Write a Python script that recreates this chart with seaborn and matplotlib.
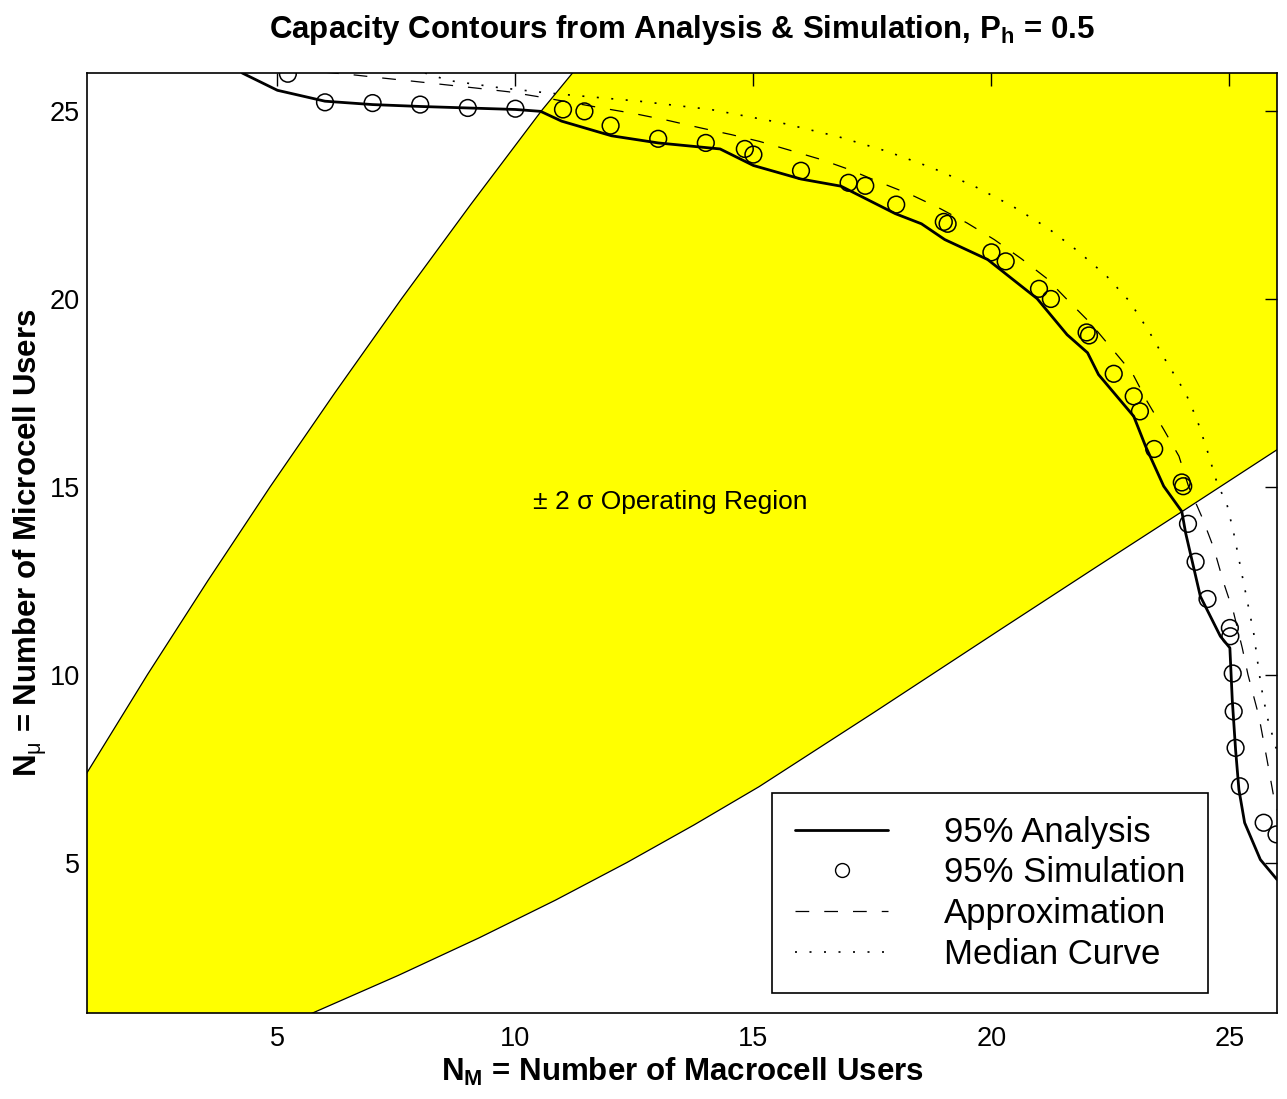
import matplotlib
matplotlib.use("Agg")
import matplotlib.pyplot as plt
import seaborn as sns
from matplotlib.lines import Line2D

# ---- data -----------------------------------------------------------------
# 95% analysis contour (N_M, N_mu)
analysis_x = [4.26, 5.0, 6.0, 7.0, 8.0, 9.0, 10.0, 10.53, 10.97, 12.02, 13.0,
              14.3, 15.0, 16.0, 16.84, 17.98, 18.53, 19.02, 19.92, 20.96, 21.59,
              22.02, 22.25, 22.99, 23.24, 23.62, 24.0, 24.08, 24.39, 24.81,
              25.01, 25.06, 25.13, 25.2, 25.32, 25.65, 26.0]
analysis_y = [26.0, 25.54, 25.25, 25.16, 25.11, 25.07, 25.03, 24.98, 24.72,
              24.33, 24.14, 23.98, 23.54, 23.18, 22.99, 22.26, 21.99, 21.57,
              21.04, 20.0, 19.04, 18.56, 17.98, 16.87, 16.07, 15.01, 14.34,
              13.77, 12.08, 11.02, 10.71, 9.33, 8.0, 6.94, 6.06, 5.08, 4.55]

# 95% simulation points
sim_x = [5.22, 6.0, 7.0, 8.0, 9.0, 10.0, 11.0, 11.45, 12.0, 13.0, 14.0, 14.82,
         15.0, 16.0, 17.0, 17.35, 18.0, 19.0, 19.08, 20.0, 20.3, 21.0, 21.25,
         22.0, 22.05, 22.57, 22.99, 23.12, 23.42, 24.0, 24.03, 24.13, 24.29,
         24.54, 25.01, 25.02, 25.07, 25.09, 25.13, 25.22, 25.72, 25.99]
sim_y = [25.98, 25.22, 25.2, 25.16, 25.07, 25.05, 25.03, 24.98, 24.6, 24.25,
         24.14, 23.98, 23.83, 23.4, 23.08, 23.0, 22.5, 22.04, 21.99, 21.23,
         20.99, 20.26, 19.99, 19.1, 19.02, 18.0, 17.4, 17.0, 16.0, 15.11,
         15.01, 14.01, 13.0, 12.01, 11.24, 11.02, 10.03, 9.02, 8.05, 7.03,
         6.06, 5.75]

# approximation curve
approx_x = [6.0, 6.53, 7.18, 7.86, 8.51, 9.17, 9.86, 10.53, 11.81, 12.5, 13.2,
            13.89, 14.54, 15.13, 15.78, 16.42, 17.02, 17.66, 18.3, 18.9, 19.49,
            20.06, 20.63, 21.15, 21.64, 22.08, 22.53, 22.96, 23.27, 23.62,
            23.94, 24.14, 24.43, 24.67, 24.88, 25.09, 25.27, 25.39, 25.62,
            25.79, 25.93, 26.05]
approx_y = [26.02, 25.96, 25.87, 25.78, 25.69, 25.6, 25.5, 25.36, 25.07, 24.92,
            24.74, 24.54, 24.36, 24.18, 23.94, 23.7, 23.43, 23.09, 22.77, 22.41,
            22.01, 21.57, 21.06, 20.55, 19.91, 19.35, 18.67, 18.02, 17.27,
            16.52, 15.81, 15.01, 14.17, 13.37, 12.44, 11.64, 10.71, 10.0, 8.89,
            7.74, 6.76, 6.2]

# median curve
median_x = [8.1, 8.6, 9.6, 10.6, 11.1, 12.6, 14.1, 15.6, 16.8, 17.8, 18.75,
            19.64, 20.44, 21.18, 21.82, 22.42, 22.9, 23.31, 23.69, 24.08, 24.32,
            24.53, 24.74, 24.95, 25.09, 25.23, 25.37, 25.51, 25.62, 25.68,
            25.79, 25.97, 26.05]
median_y = [26.0, 25.8, 25.62, 25.48, 25.42, 25.25, 25.03, 24.67, 24.3, 23.92,
            23.48, 22.99, 22.46, 21.88, 21.26, 20.6, 19.93, 19.13, 18.29, 17.49,
            16.78, 15.98, 15.1, 14.52, 13.77, 12.88, 11.99, 11.11, 10.09, 9.6,
            8.89, 8.09, 7.8]

# +/- 2 sigma operating-region boundaries
upper_x = [0.34, 1.0, 2.27, 3.54, 4.85, 6.21, 7.61, 9.06, 10.55, 11.2, 11.78]
upper_y = [6.0, 7.39, 10.0, 12.5, 15.0, 17.5, 20.0, 22.5, 25.0, 26.0, 27.0]
lower_x = [5.08, 5.74, 7.54, 9.24, 10.84, 12.34, 13.75, 15.12, 17.54, 20.19,
           22.19, 24.01, 26.0, 26.6]
lower_y = [0.65, 1.0, 2.0, 3.0, 4.0, 5.0, 6.0, 7.02, 9.0, 11.2, 12.85, 14.34,
           15.98, 16.47]

tick_vals = [5, 10, 15, 20, 25]
legend_labels = ["95% Analysis", "95% Simulation", "Approximation", "Median Curve"]

# ---- style ----------------------------------------------------------------
sns.set_theme(style="white")
plt.rcParams.update({
    "font.family": ["Liberation Sans", "DejaVu Sans"],
    "mathtext.fontset": "custom",
    "mathtext.rm": "Liberation Sans",
    "mathtext.it": "Liberation Sans:italic",
    "mathtext.bf": "Liberation Sans:bold",
    "axes.edgecolor": "black",
    "axes.linewidth": 1.2,
    "text.color": "black",
    "xtick.color": "black",
    "ytick.color": "black",
})

fig = plt.figure(figsize=(12.87, 10.99), dpi=100)
ax = fig.add_axes([87 / 1287, 1 - 1013 / 1099, 1190 / 1287, 940 / 1099])

# operating region: area between the two boundary curves
poly_x = upper_x + [27.0, 27.0] + lower_x[::-1] + [0.3]
poly_y = upper_y + [27.0, lower_y[-1]] + lower_y[::-1] + [lower_y[0]]
ax.fill(poly_x, poly_y, color="#ffff00", lw=0, zorder=0)

sns.lineplot(x=upper_x, y=upper_y, sort=False, estimator=None, color="black",
             lw=0.9, ax=ax, zorder=1)
sns.lineplot(x=lower_x, y=lower_y, sort=False, estimator=None, color="black",
             lw=0.9, ax=ax, zorder=1)

dash_style = (0, (11, 12))
dot_style = (0, (1.2, 7.5))

sns.lineplot(x=median_x, y=median_y, sort=False, estimator=None, color="black",
             lw=1.2, linestyle=dot_style, ax=ax, zorder=2)
sns.lineplot(x=approx_x, y=approx_y, sort=False, estimator=None, color="black",
             lw=0.9, linestyle=dash_style, ax=ax, zorder=2)
sns.lineplot(x=analysis_x, y=analysis_y, sort=False, estimator=None,
             color="black", lw=2.0, ax=ax, zorder=3)
sns.scatterplot(x=sim_x, y=sim_y, marker="o", s=145, facecolor="none",
                edgecolor="black", linewidth=1.1, ax=ax, zorder=4)

ax.set_xlim(1, 26)
ax.set_ylim(1, 26)
ax.set_xticks(tick_vals)
ax.set_yticks(tick_vals)
ax.tick_params(axis="both", direction="in", length=9, width=1.0,
               top=True, right=True, labelsize=19.5)
ax.tick_params(axis="x", pad=9)
ax.tick_params(axis="y", pad=5)
for sp in ax.spines.values():
    sp.set_visible(True)
    sp.set_color("black")
    sp.set_linewidth(1.2)

ax.text(10.38, 14.6, "\u00b1 2 \u03c3 Operating Region", fontsize=19,
        ha="left", va="center", zorder=5)

handles = [
    Line2D([], [], color="black", lw=2.0),
    Line2D([], [], color="black", ls="none", marker="o", ms=10,
           mfc="none", mec="black", mew=1.0),
    Line2D([], [], color="black", lw=0.9, linestyle=dash_style),
    Line2D([], [], color="black", lw=1.2, linestyle=dot_style),
]
leg = ax.legend(handles, legend_labels, loc="lower right",
                bbox_to_anchor=(0.942, 0.021), borderaxespad=0,
                fontsize=25, handlelength=2.7, handletextpad=1.6,
                labelspacing=0.22, borderpad=0.65, fancybox=False,
                frameon=True, framealpha=1, edgecolor="black")
leg.get_frame().set_linewidth(1.2)

fig.text(682 / 1287, 1 - 38 / 1099,
         r"Capacity Contours from Analysis & Simulation, P$_\mathbf{h}$ = 0.5",
         ha="center", va="baseline", fontsize=22.5, fontweight="bold")
fig.text(682 / 1287, 1 - 1081 / 1099,
         r"N$_\mathbf{M}$ = Number of Macrocell Users",
         ha="center", va="baseline", fontsize=22.5, fontweight="bold")
fig.text(30 / 1287, 1 - 543 / 1099,
         r"N$_\mathrm{\mu}$ = Number of Microcell Users",
         ha="center", va="center", rotation=90, fontsize=22.5,
         fontweight="bold")

fig.savefig("out.png", dpi=100)
